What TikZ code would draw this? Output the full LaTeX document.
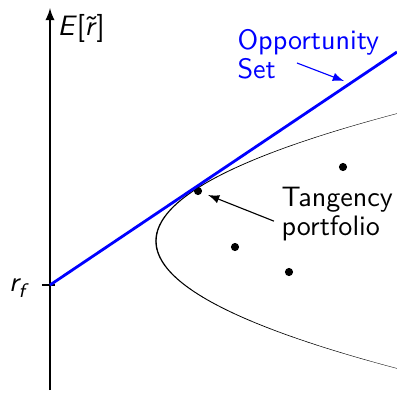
\documentclass[tikz,border=0pt]{standalone}
\usetikzlibrary{arrows, positioning}
\tikzset{
  >=latex, % arrow heads
  every node/.style={font=\sffamily\fontsize{10}{9}\selectfont}, % sans labels
  frontier/.style={line cap=round}, % the efficient frontier
  asset/.style={circle, fill=black, inner sep=0pt, minimum size=2.9pt}, % a portfolio
  cml/.style={blue, line width=1pt}, % the opportunity set
}

\begin{document}
\begin{tikzpicture}[x=0.356pt, y=-0.356pt]
  \useasboundingbox (0,0) rectangle (397,393);

  % axis
  \coordinate (bottom) at (50,390);
  \coordinate (top) at (50,8);
  \draw[->, line width=0.5pt] (bottom) -- (top);
  \node[anchor=west, inner sep=0pt] (ylabel) at (57,28)
    {\textsl{E}[\textsl{\~r}]};

  % risk free rate
  \coordinate (rf) at (50,285);
  \draw[line width=0.8pt] (rf) +(-8,0) -- +(5,0);
  \node (rflabel) at (17,288) {\textsl{r\raisebox{-0.45ex}{\scriptsize f}}};

  % frontier, thinner towards the ends
  \foreach \segstart in {-128,-120,...,120} {
    \pgfmathsetmacro\segend{\segstart+8}
    \pgfmathsetmacro\segwidth{0.5-0.003*abs(\segstart+4)}
    \draw[frontier, line width=\segwidth pt]
      plot[domain=\segstart:\segend, samples=4, variable=\t]
      ({156+1.484*(\t/10)*(\t/10)},{241+\t});
  }
  \node[asset] (tangency) at (198,191) {};
  \node[asset] (assetA) at (343,167) {};
  \node[asset] (assetB) at (235,247) {};
  \node[asset] (assetC) at (289,272) {};

  % opportunity set
  \coordinate (cmlend) at (397,52);
  \draw[cml] (rf) -- (cmlend);
  \node[blue, align=left, anchor=north west, inner sep=0pt] (oppset) at (237,29)
    {Opportunity\\Set};
  \coordinate (setstart) at (297,63);
  \coordinate (setend) at (344,81);
  \draw[->, blue, thin] (setstart) -- (setend);

  % tangency portfolio
  \node[align=left, anchor=north west, inner sep=0pt] (tanglabel) at (281,187)
    {Tangency\\portfolio};
  \draw[->, thin, shorten >=2.2pt] ([shift={(-7,7)}]tanglabel.west) -- (tangency);
\end{tikzpicture}
\end{document}
